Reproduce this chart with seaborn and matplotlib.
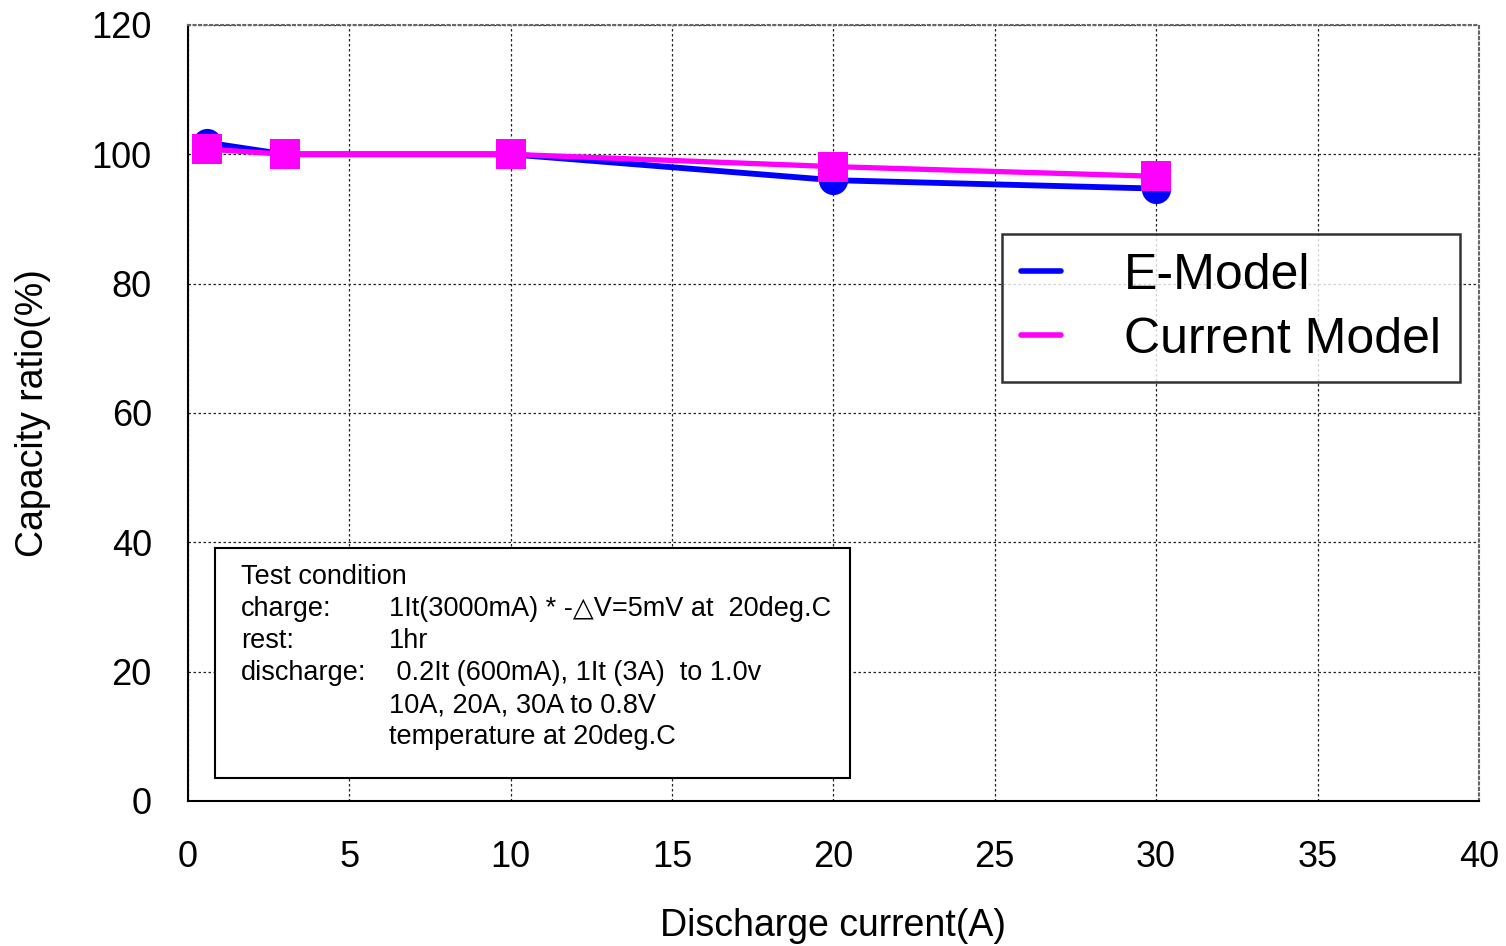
import pandas as pd
import seaborn as sns
import matplotlib.pyplot as plt
from matplotlib.lines import Line2D
from matplotlib.patches import Rectangle
from matplotlib.ticker import MultipleLocator

# data
current_a = [0.6, 3, 10, 20, 30]
e_model = [101.8, 100.0, 100.0, 96.0, 94.7]
current_model = [100.8, 100.0, 100.0, 98.1, 96.6]
series_names = ["E-Model", "Current Model"]
series_colors = ["#0000ff", "#ff00ff"]

condition_labels = ["charge:", "rest:", "discharge:", "", ""]
condition_values = [
    "1It(3000mA) * -\u25b3V=5mV at  20deg.C",
    "1hr",
    " 0.2It (600mA), 1It (3A)  to 1.0v",
    "10A, 20A, 30A to 0.8V",
    "temperature at 20deg.C",
]

sns.set_style("white")
plt.rcParams["font.family"] = ["Liberation Sans", "DejaVu Sans"]
plt.rcParams["text.color"] = "black"
plt.rcParams["axes.labelcolor"] = "black"
plt.rcParams["xtick.color"] = "black"
plt.rcParams["ytick.color"] = "black"

df = pd.DataFrame({
    "current": current_a * 2,
    "ratio": e_model + current_model,
    "model": [series_names[0]] * len(current_a) + [series_names[1]] * len(current_a),
})

fig = plt.figure(figsize=(15.06, 9.46), dpi=100)
ax = fig.add_axes([0.1248, 0.1533, 0.8572, 0.8203])

markers = ["o", "s"]
for i, name in enumerate(series_names):
    sns.lineplot(data=df[df["model"] == name], x="current", y="ratio",
                 color=series_colors[i], marker=markers[i], markersize=21,
                 markeredgewidth=0, linewidth=4.2 if i == 0 else 3.8,
                 ax=ax, zorder=3 + i)

ax.set_xlim(0, 40)
ax.set_ylim(0, 120)
ax.xaxis.set_major_locator(MultipleLocator(5))
ax.xaxis.set_minor_locator(MultipleLocator(1))
ax.yaxis.set_major_locator(MultipleLocator(20))
ax.yaxis.set_minor_locator(MultipleLocator(10))
ax.tick_params(which="both", direction="in", length=6, width=1, color="black",
               labelsize=26)
ax.tick_params(axis="y", pad=26)
ax.tick_params(axis="x", pad=28)
ax.grid(True, which="major", linestyle=(0, (2, 2)), color="#222222", linewidth=0.9)

for side in ["left", "bottom"]:
    ax.spines[side].set_color("black")
    ax.spines[side].set_linewidth(1.5)
for side in ["top", "right"]:
    ax.spines[side].set_color("#666666")
    ax.spines[side].set_linestyle(":")
    ax.spines[side].set_linewidth(1.5)

ax.set_xlabel("Discharge current(A)", fontsize=27, labelpad=24)
ax.set_ylabel("Capacity ratio(%)", fontsize=27, labelpad=29)

handles = [Line2D([0], [0], color=c, linewidth=4) for c in series_colors]
leg = ax.legend(handles, series_names, loc="upper left",
                bbox_to_anchor=(0.6305, 0.7307), fontsize=36,
                frameon=True, fancybox=False, handlelength=0.8,
                handletextpad=1.26, borderpad=0.38, labelspacing=0.36,
                borderaxespad=0)
leg.get_frame().set_edgecolor("black")
leg.get_frame().set_linewidth(1.8)
leg.set_zorder(10)

# test condition box
box = Rectangle((0.0209, 0.0296), 0.4919, 0.2964, transform=ax.transAxes,
                facecolor="white", edgecolor="black", linewidth=1.5, zorder=8)
ax.add_patch(box)
ax.text(0.0411, 0.2882, "Test condition", transform=ax.transAxes,
        fontsize=19.5, va="center", zorder=9)
for i, (lab, val) in enumerate(zip(condition_labels, condition_values)):
    y = 0.2882 - (i + 1) * 0.0412
    ax.text(0.0411, y, lab, transform=ax.transAxes, fontsize=19.5,
            va="center", zorder=9)
    ax.text(0.1557, y, val, transform=ax.transAxes, fontsize=19.5,
            va="center", zorder=9)

fig.savefig("out.png", dpi=100)
